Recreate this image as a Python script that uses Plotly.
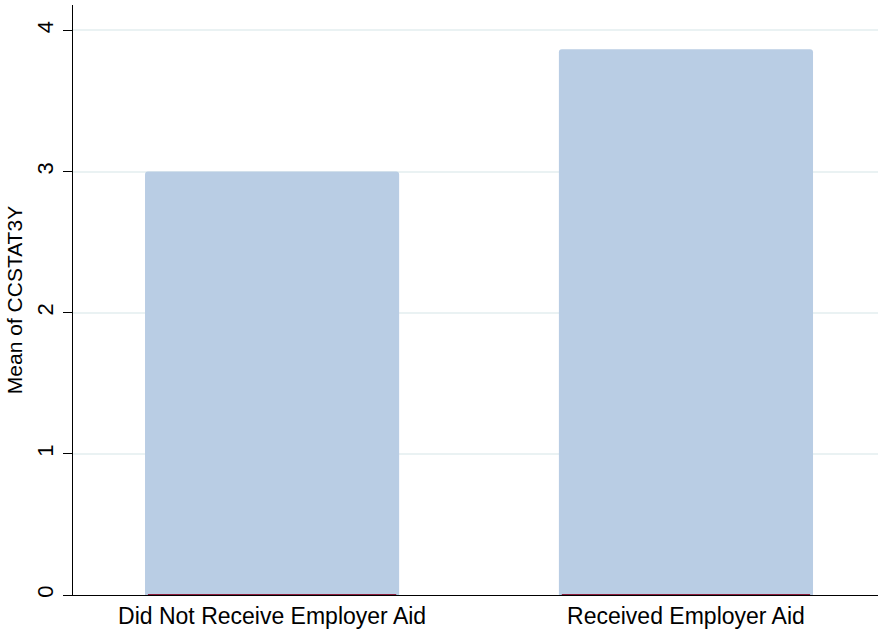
import plotly.graph_objects as go

categories = ["Did Not Receive Employer Aid", "Received Employer Aid"]
means = [3.0, 3.866]
baseline_marks = [0.006, 0.006]
y_ticks = [0, 1, 2, 3, 4]

fig = go.Figure()
fig.add_trace(go.Bar(
    x=categories, y=means, width=0.614,
    marker=dict(color="#b9cde4", line=dict(width=0), cornerradius=3),
    showlegend=False,
))
fig.add_trace(go.Bar(
    x=categories, y=baseline_marks, width=0.6,
    marker=dict(color="#8a1c3c", line=dict(width=0)),
    showlegend=False,
))

fig.update_layout(
    barmode="overlay",
    width=878, height=631,
    margin=dict(l=73, r=0, t=5, b=36),
    paper_bgcolor="white", plot_bgcolor="white",
    font=dict(family="Liberation Sans, Arial, sans-serif", color="black"),
    xaxis=dict(
        type="category", range=[-0.481, 1.464],
        showline=True, linecolor="black", linewidth=1,
        ticks="", showgrid=False, tickfont=dict(size=23),
        fixedrange=True,
    ),
    yaxis=dict(
        range=[0, 4.18], tickvals=y_ticks,
        showline=True, linecolor="black", linewidth=1,
        ticks="outside", ticklen=9, tickcolor="black",
        tickangle=-90, tickfont=dict(size=22),
        ticklabelstandoff=1,
        showgrid=True, gridcolor="#eaf2f3", gridwidth=1.5,
        zeroline=False,
        title=dict(text="Mean of CCSTAT3Y", font=dict(size=21), standoff=4),
    ),
)

fig.write_html("out.html", config={"displayModeBar": False},
               post_script="document.body.style.margin='0';")
